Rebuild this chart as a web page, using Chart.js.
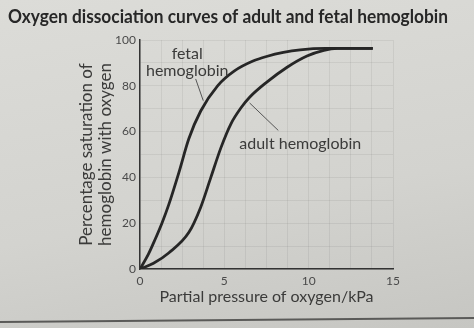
<!DOCTYPE html>
<html>
<head>
<meta charset="utf-8">
<script src="https://cdn.jsdelivr.net/npm/chart.js@4"></script>
<style>
    html, body { margin: 0; padding: 0; }
    body {
        width: 474px; height: 328px; overflow: hidden; position: relative;
        background: linear-gradient(170deg, #dcdcd8 0%, #d3d3cf 60%, #c6c6c2 100%);
    }
    #wrap { position: absolute; left: 0; top: 0; width: 474px; height: 328px; }
    #edge {
        position: absolute; left: -10px; top: 319px; width: 500px; height: 2px;
        background: #5a5a58; transform: rotate(-0.5deg);
    }
</style>
</head>
<body>
<div id="wrap"><canvas id="chart" width="474" height="328"></canvas></div>
<div id="edge"></div>
<script>
// values (kPa / % saturation)
const fetalPressure = [0, 0.5, 0.9, 1.3, 1.7, 2.3, 2.9, 3.6, 4.6, 5.6, 6.7, 7.5, 8.5, 9.5, 11, 13.8];
const fetalSaturation = [0, 6.5, 13, 20, 28, 42, 57, 69, 80, 86.5, 90.8, 92.8, 94.6, 95.7, 96.3, 96.3];

const adultPressure = [0, 0.8, 1.7, 2.9, 3.6, 4.2, 4.8, 5.4, 6.0, 6.5, 7.5, 8.7, 9.9, 10.9, 11.7, 13.8];
const adultSaturation = [0, 2.5, 7, 16, 27, 40, 53, 63.5, 70.5, 75, 81.5, 88, 93, 95.5, 96.3, 96.3];

const xTickLabels = [0, 5, 10, 15];
const yTickLabels = [0, 20, 40, 60, 80, 100];

const chartTitle = 'Oxygen dissociation curves of adult and fetal hemoglobin';

const TEXT = '#3b3b3a';
const INK = '#262626';
const FONT = "Lato, 'Open Sans', sans-serif";

function toPoints(xs, ys) {
    return xs.map((x, i) => ({ x: x, y: ys[i] }));
}

// heading drawn by hand so it can run past the plot's right edge
const heading = {
    id: 'heading',
    afterDraw(chart) {
        const ctx = chart.ctx;
        ctx.save();
        ctx.fillStyle = '#272727';
        ctx.font = 'bold 18px ' + FONT;
        ctx.textAlign = 'left';
        ctx.textBaseline = 'alphabetic';
        ctx.fillText(chartTitle, 8, 23, 440);
        ctx.restore();
    }
};

// labels on the curves with their leader lines
const curveLabels = {
    id: 'curveLabels',
    afterDatasetsDraw(chart) {
        const { ctx, scales: { x, y } } = chart;
        ctx.save();
        ctx.fillStyle = TEXT;
        ctx.font = '16px ' + FONT;
        ctx.textAlign = 'center';
        ctx.textBaseline = 'middle';
        ctx.fillText('fetal', x.getPixelForValue(2.8), y.getPixelForValue(94));
        ctx.fillText('hemoglobin', x.getPixelForValue(2.8), y.getPixelForValue(86.5));
        ctx.fillText('adult hemoglobin', x.getPixelForValue(9.5), y.getPixelForValue(54.5));

        ctx.strokeStyle = '#555';
        ctx.lineWidth = 1;
        ctx.beginPath();
        ctx.moveTo(x.getPixelForValue(3.3), y.getPixelForValue(83));
        ctx.lineTo(x.getPixelForValue(3.75), y.getPixelForValue(73.5));
        ctx.moveTo(x.getPixelForValue(6.5), y.getPixelForValue(72.5));
        ctx.lineTo(x.getPixelForValue(8.2), y.getPixelForValue(60.5));
        ctx.stroke();
        ctx.restore();
    }
};

new Chart(document.getElementById('chart'), {
    type: 'line',
    data: {
        datasets: [
            {
                label: 'fetal hemoglobin',
                data: toPoints(fetalPressure, fetalSaturation),
                borderColor: INK,
                borderWidth: 2.8,
                pointRadius: 0,
                cubicInterpolationMode: 'monotone',
                fill: false
            },
            {
                label: 'adult hemoglobin',
                data: toPoints(adultPressure, adultSaturation),
                borderColor: INK,
                borderWidth: 2.8,
                pointRadius: 0,
                cubicInterpolationMode: 'monotone',
                fill: false
            }
        ]
    },
    options: {
        responsive: false,
        animation: false,
        layout: { padding: { left: 8, right: 81, top: 40, bottom: 0 } },
        plugins: {
            legend: { display: false },
            tooltip: { enabled: false },
            title: { display: false }
        },
        scales: {
            x: {
                type: 'linear',
                min: 0,
                max: 15,
                afterFit: s => { s.height = 59; },
                ticks: {
                    stepSize: 1.25,
                    autoSkip: false,
                    maxRotation: 0,
                    padding: 5,
                    color: '#4a4a4a',
                    font: { family: FONT, size: 12 },
                    callback: v => xTickLabels.includes(v) ? v : ''
                },
                grid: { color: 'rgba(0,0,0,0.06)', drawTicks: false },
                border: { color: '#333', width: 1.5 },
                title: {
                    display: true,
                    text: 'Partial pressure of oxygen/kPa',
                    color: TEXT,
                    font: { family: FONT, size: 16, lineHeight: 1.1 },
                    padding: { top: 0, bottom: 22 }
                }
            },
            y: {
                min: 0,
                max: 100,
                afterFit: s => { s.width = 132; },
                ticks: {
                    stepSize: 10,
                    autoSkip: false,
                    padding: 4,
                    color: '#4a4a4a',
                    font: { family: FONT, size: 12 },
                    callback: v => yTickLabels.includes(v) ? v : ''
                },
                grid: { color: 'rgba(0,0,0,0.06)', drawTicks: false },
                border: { color: '#333', width: 1.5 },
                title: {
                    display: true,
                    text: ['Percentage saturation of', 'hemoglobin with oxygen'],
                    color: TEXT,
                    font: { family: FONT, size: 17, lineHeight: 1.06 },
                    padding: { top: 70, bottom: 0 }
                }
            }
        }
    },
    plugins: [curveLabels, heading]
});
</script>
</body>
</html>
